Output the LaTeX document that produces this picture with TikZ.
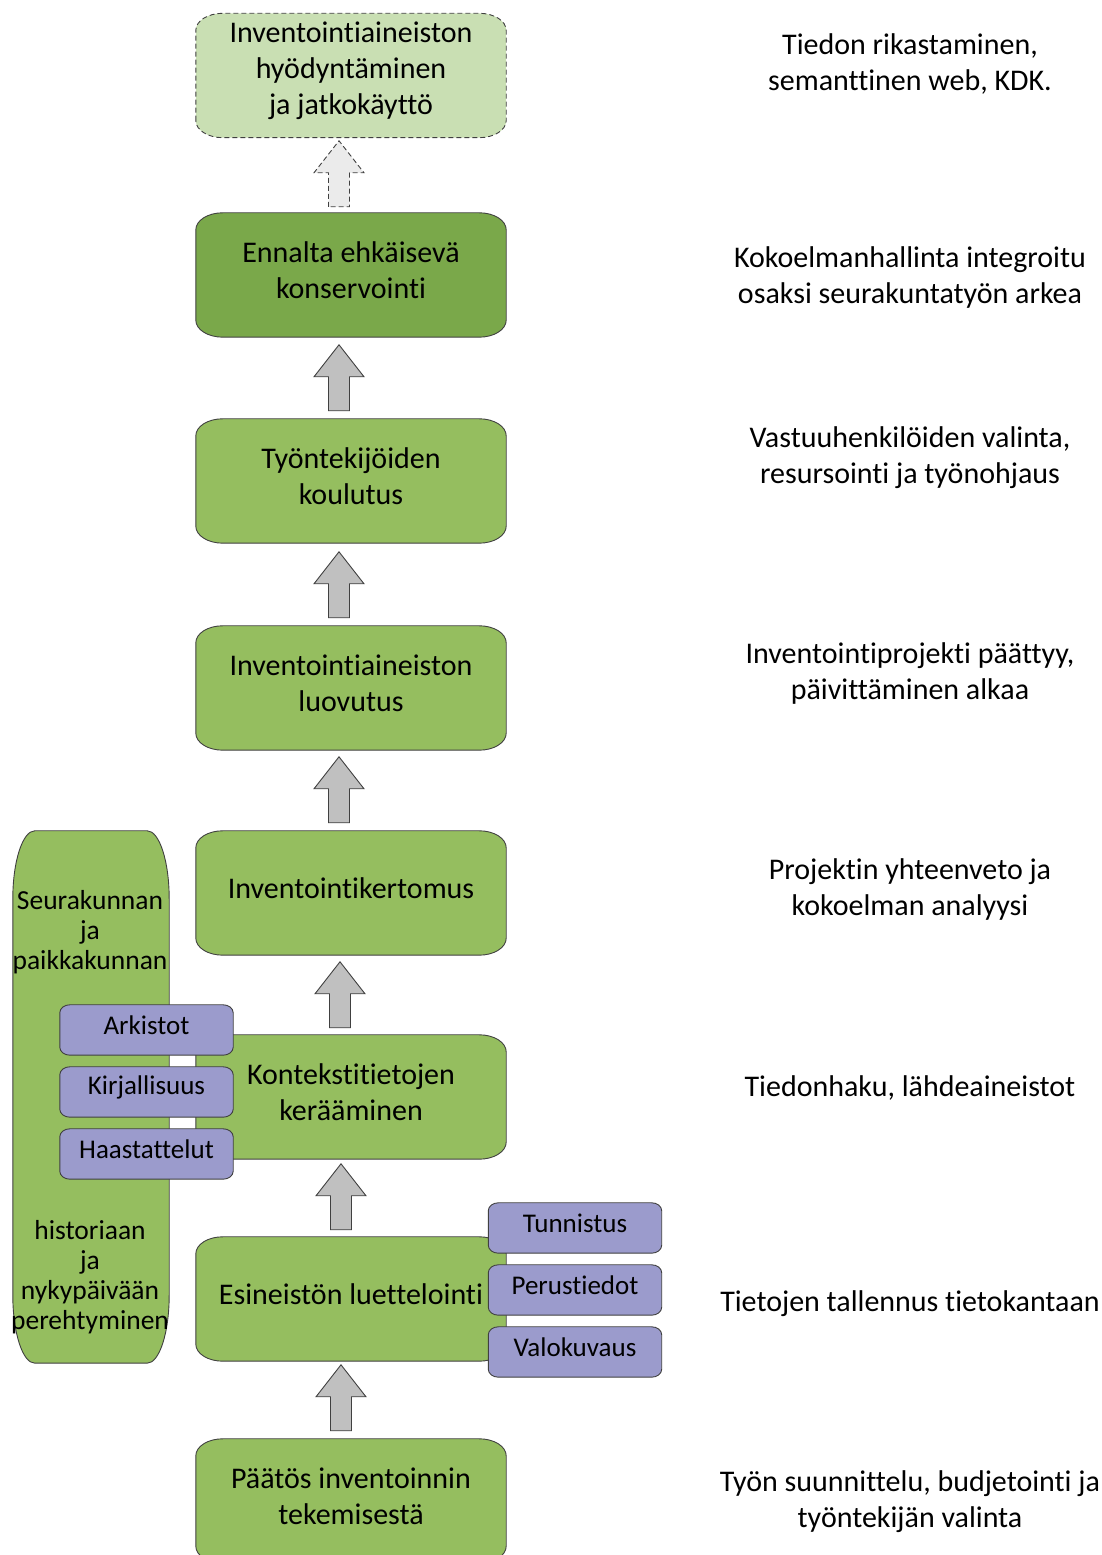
\documentclass[tikz,border=0pt]{standalone}
\usepackage{fontspec}
\setmainfont{Carlito}[Ligatures={NoCommon}]
\usetikzlibrary{positioning, calc, backgrounds}
\definecolor{stepgreen}{HTML}{95BE5F}
\definecolor{darkgreen}{HTML}{7AA84A}
\definecolor{palegreen}{HTML}{C9DFB3}
\definecolor{lilac}{HTML}{9B9BCC}
\definecolor{arrowgray}{HTML}{C0C0C0}
\definecolor{palegray}{HTML}{EBEBEB}
\definecolor{edgegray}{HTML}{404040}

% outline with elliptical corners round a named node (text sits 5pt above the middle)
\newcommand{\softbox}[4]{%
  \path[#4] let \p1=($(#1.south west)+(0,-5)$), \p2=($(#1.north east)+(0,-5)$) in
    (\x1,\y1+#3) -- (\x1,\y2-#3)
    arc[start angle=180, end angle=90, x radius=#2, y radius=#3]
    -- (\x2-#2,\y2)
    arc[start angle=90, end angle=0, x radius=#2, y radius=#3]
    -- (\x2,\y1+#3)
    arc[start angle=0, end angle=-90, x radius=#2, y radius=#3]
    -- (\x1+#2,\y1)
    arc[start angle=270, end angle=180, x radius=#2, y radius=#3] -- cycle;}

\begin{document}
\begin{tikzpicture}[x=1pt, y=1pt,
  stepbox/.style={minimum width=310pt, minimum height=124pt, inner sep=0pt, align=center, font=\fontsize{30}{36}\selectfont},
  subbox/.style={minimum width=173pt, minimum height=50pt, inner sep=0pt, font=\fontsize{27}{30}\selectfont},
  sidetext/.style={align=center, inner sep=0pt, font=\fontsize{27.5}{30}\selectfont},
  note/.style={align=center, inner sep=0pt, font=\fontsize{30}{36}\selectfont},
  edge/.style={draw=edgegray, line width=0.9pt},
  blockarrow/.style={edge, fill=arrowgray},
  uparrow/.pic={\path[pic actions] (-10.5,0) -- (-10.5,34) -- (-25,34) -- (0,66) -- (25,34) -- (10.5,34) -- (10.5,0) -- cycle;}
]
  \useasboundingbox (0,0) rectangle (1102,1555);

  % main steps
  \node[stepbox] (use) at (351,1484.5) {Inventointiaineiston\\hyödyntäminen\\ja jatkokäyttö};
  \node[stepbox] (care) at (351,1285) {Ennalta ehkäisevä\\konservointi};
  \node[stepbox] (train) at (351,1079) {Työntekijöiden\\koulutus};
  \node[stepbox] (handover) at (351,872) {Inventointiaineiston\\luovutus};
  \node[stepbox] (report) at (351,667) {Inventointikertomus};
  \node[stepbox] (context) at (351,463) {Kontekstitietojen\\kerääminen};
  \node[stepbox] (catalog) at (351,261) {Esineistön luettelointi};
  \node[stepbox] (decision) at (351,59) {Päätös inventoinnin\\tekemisestä};

  % side column
  \node[minimum width=156pt, minimum height=532pt, inner sep=0pt] (history) at (91,463) {};
  \node[sidetext] (historytop) at (90,623) {Seurakunnan\\ja\\paikkakunnan};
  \node[sidetext] (historybottom) at (90,278) {historiaan\\ja\\nykypäivään\\perehtyminen};

  \node[subbox] (archives) at (146.5,530) {Arkistot};
  \node[subbox] (literature) at (146.5,468) {Kirjallisuus};
  \node[subbox] (interviews) at (146.5,406) {Haastattelut};

  \node[subbox] (identify) at (575,332) {Tunnistus};
  \node[subbox] (basics) at (575,270) {Perustiedot};
  \node[subbox] (photos) at (575,208) {Valokuvaus};

  \begin{pgfonlayer}{background}
    \softbox{history}{22pt}{68pt}{edge, fill=stepgreen}
    \softbox{use}{27pt}{17pt}{edge, dash pattern=on 5pt off 3pt, fill=palegreen}
    \softbox{care}{27pt}{17pt}{edge, fill=darkgreen}
    \foreach \step in {train, handover, report, context, catalog, decision}
      {\softbox{\step}{27pt}{17pt}{edge, fill=stepgreen}}
    \foreach \step in {archives, literature, interviews, identify, basics, photos}
      {\softbox{\step}{10pt}{8pt}{edge, fill=lilac}}
  \end{pgfonlayer}

  % arrows between steps
  \pic[edge, dash pattern=on 5pt off 3pt, fill=palegray] at ($(care.north)+(-12,1)$) {uparrow};
  \pic[blockarrow] at ($(train.north)+(-12,3)$) {uparrow};
  \pic[blockarrow] at ($(handover.north)+(-12,3)$) {uparrow};
  \pic[blockarrow] at ($(report.north)+(-12,3)$) {uparrow};
  \pic[blockarrow] at ($(context.north)+(-11,2)$) {uparrow};
  \pic[blockarrow] at ($(catalog.north)+(-10,2)$) {uparrow};
  \pic[blockarrow] at ($(decision.north)+(-10,3)$) {uparrow};

  % notes on the right
  \node[note] (note1) at (910,1491) {Tiedon rikastaminen,\\semanttinen web, KDK.};
  \node[note] (note2) at (910,1277) {Kokoelmanhallinta integroitu\\osaksi seurakuntatyön arkea};
  \node[note] (note3) at (910,1097) {Vastuuhenkilöiden valinta,\\resursointi ja työnohjaus};
  \node[note] (note4) at (910,881) {Inventointiprojekti päättyy,\\päivittäminen alkaa};
  \node[note] (note5) at (910,665) {Projektin yhteenveto ja\\kokoelman analyysi};
  \node[note] (note6) at (910,467) {Tiedonhaku, lähdeaineistot};
  \node[note] (note7) at (910,251) {Tietojen tallennus tietokantaan};
  \node[note] (note8) at (910,53) {Työn suunnittelu, budjetointi ja\\työntekijän valinta};
\end{tikzpicture}
\end{document}
